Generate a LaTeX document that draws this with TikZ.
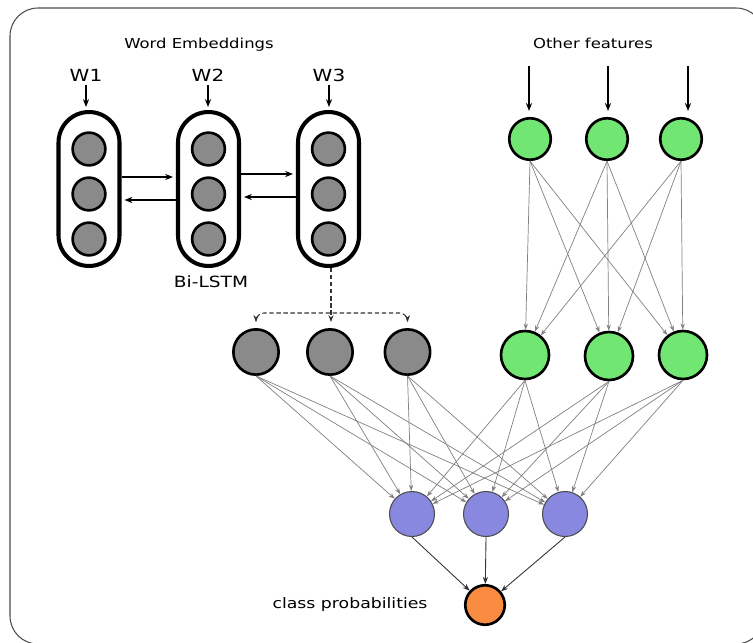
\documentclass[tikz,border=0pt]{standalone}
\usepackage{fontspec}
\setmainfont{DejaVu Sans}[FakeStretch=1.2]
\usepackage{xcolor}
\usetikzlibrary{arrows.meta}

\definecolor{cellgray}{RGB}{138,138,138}
\definecolor{featgreen}{RGB}{114,230,114}
\definecolor{denseblue}{RGB}{136,136,224}
\definecolor{outorange}{RGB}{249,140,64}

\begin{document}
\begin{tikzpicture}[x=0.02cm, y=-0.02cm,
    boxline/.style={draw=black!70, line width=0.6pt, rounded corners=0.56cm},
    pill/.style={draw, line width=2.3pt, rounded corners=0.61cm,
      minimum width=1.22cm, minimum height=3.08cm, inner sep=0pt},
    cell/.style={circle, draw, line width=1.5pt, fill=cellgray, inner sep=0pt, minimum size=0.655cm},
    vecnode/.style={cell, minimum size=0.906cm},
    inpnode/.style={circle, draw, line width=1.5pt, fill=featgreen, inner sep=0pt, minimum size=0.83cm},
    featnode/.style={inpnode, minimum size=0.96cm},
    densenode/.style={circle, draw=black!70, line width=0.6pt, fill=denseblue, inner sep=0pt, minimum size=0.9cm},
    outnode/.style={circle, draw, line width=1.5pt, fill=outorange, inner sep=0pt, minimum size=0.79cm},
    lbl/.style={inner sep=1.5pt, anchor=base, text=black, font=\fontsize{7.8}{9}\selectfont},
    wlbl/.style={lbl, font=\fontsize{9.5}{11}\selectfont},
    link/.style={line width=0.7pt, -{Stealth[length=4.5pt, width=3.5pt]}},
    wire/.style={draw=black!50, line width=0.4pt, -{Stealth[length=3.5pt, width=2.5pt]}},
    dashlink/.style={draw=black!80, line width=0.6pt, dash pattern=on 2.5pt off 1.5pt}
  ]
\useasboundingbox (0,0) rectangle (753,642);
\clip (0,0) rectangle (753,642);
\draw[boxline] (10,8) rectangle (764,644);

% headings
\node[lbl] (wordemb) at (199,49) {Word Embeddings};
\node[lbl] (otherfeat) at (593,49) {Other features};

% bi-lstm cells
\foreach \i/\x in {1/89,2/208.5,3/328.5} {
  \node[pill] (pill\i) at (\x,189) {};
  \foreach \j/\y in {1/149,2/194,3/239}
    \node[cell] (cell\i\j) at (\x,\y) {};
}
\node[wlbl] (w1) at (86,82) {W1};
\node[wlbl] (w2) at (208,82) {W2};
\node[wlbl] (w3) at (329,82) {W3};
\foreach \i in {1,2,3}
  \draw[link, shorten >=0.06cm] (w\i.south) -- (w\i.south |- pill\i.north);
\node[wlbl, font=\fontsize{8.8}{10}\selectfont] (bilstm) at (211,287) {Bi-LSTM};

\draw[link, shorten >=0.06cm] ([yshift=0.24cm]pill1.east) -- ([yshift=0.24cm]pill2.west);
\draw[link, shorten >=0.06cm] ([yshift=-0.22cm]pill2.west) -- ([yshift=-0.22cm]pill1.east);
\draw[link, shorten >=0.06cm] ([yshift=0.3cm]pill2.east) -- ([yshift=0.3cm]pill3.west);
\draw[link, shorten >=0.06cm] ([yshift=-0.16cm]pill3.west) -- ([yshift=-0.16cm]pill2.east);

% sentence vector
\node[vecnode] (vec1) at (256,352) {};
\node[vecnode] (vec2) at (330,352) {};
\node[vecnode] (vec3) at (407.5,352) {};

\coordinate (fork) at (331,313);
\draw[dashlink, -{Stealth[length=4pt, width=3pt]}] (fork |- pill3.south) -- ([yshift=0.12cm]fork |- vec2.north);
\draw[dashlink, {Stealth[length=4pt, width=3pt]}-{Stealth[length=4pt, width=3pt]}, rounded corners=0.16cm]
  ([yshift=0.12cm]vec1.north) |- (fork) -| ([yshift=0.12cm]vec3.north);

% other features
\node[inpnode] (inp1) at (530,139) {};
\node[inpnode] (inp2) at (607,139) {};
\node[inpnode] (inp3) at (681,139) {};
\coordinate (src1) at (529,66);
\coordinate (src2) at (608,66);
\coordinate (src3) at (688,66);
\foreach \i in {1,2,3}
  \draw[link, shorten >=0.12cm] (src\i) -- (src\i |- inp\i.north);

\node[featnode] (feat1) at (525,355) {};
\node[featnode] (feat2) at (609,356) {};
\node[featnode] (feat3) at (683,355) {};
\foreach \i in {1,2,3}
  \foreach \j in {1,2,3}
    \draw[wire] (inp\i.south) -- (feat\j);

% dense layer
\node[densenode] (dense1) at (412,514) {};
\node[densenode] (dense2) at (486,514) {};
\node[densenode] (dense3) at (565,514) {};
\foreach \i in {1,2,3}
  \foreach \j in {1,2,3} {
    \draw[wire] (vec\i.south) -- (dense\j);
    \draw[wire] (feat\i.south) -- (dense\j);
  }

% output
\node[outnode] (out) at (485,605) {};
\node[lbl, font=\fontsize{8.2}{10}\selectfont] (classprob) at (350,608) {class probabilities};
\foreach \j in {1,2,3}
  \draw[draw=black!80, line width=0.5pt, -{Stealth[length=4pt, width=3pt]}] (dense\j.south) -- (out);
\end{tikzpicture}
\end{document}
